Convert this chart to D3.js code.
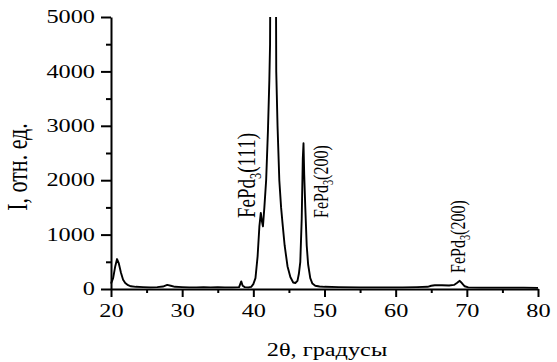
<!DOCTYPE html>
<html><head><meta charset="utf-8">
<script src="https://cdn.jsdelivr.net/npm/d3@7"></script>
<style>
body{margin:0;background:#fff}
svg text{font-family:"Liberation Serif","Times New Roman",serif;fill:#000}
</style>
</head><body>
<svg id="c" width="557" height="362"></svg>
<script>
// ---- data ----
const twoTheta = [20.0,20.3,20.6,20.85,21.1,21.4,21.7,22.0,22.4,22.8,23.5,24.5,25.5,26.5,27.3,27.9,28.4,29.0,30,31,32,33,34,35,36,37,38.0,38.3,38.5,38.8,39.3,39.7,40.0,40.3,40.6,40.85,41.05,41.2,41.35,41.55,41.8,42.05,42.25,42.35,42.8,43.22,43.4,43.65,43.9,44.1,44.4,44.8,45.2,45.6,45.9,46.2,46.4,46.6,46.8,46.95,47.05,47.15,47.3,47.5,47.7,48.0,48.3,48.7,49.3,50,52,55,58,61,63,64.5,65,65.5,66.5,67.5,68.2,68.6,69.0,69.3,69.7,70.2,72,75,78,80];
const intensity = [100,200,420,550,470,300,170,110,70,50,40,35,30,35,45,75,60,40,35,30,30,35,30,35,30,30,35,140,60,35,30,40,90,200,600,1150,1400,1250,1150,1500,2000,2900,3840,4500,20000,4000,3000,2000,1500,1210,800,420,220,120,110,150,280,500,1300,2400,2680,2100,1500,800,450,200,100,60,45,40,35,30,30,30,35,40,60,70,70,65,75,110,150,110,50,30,25,25,25,20];
const xTicks = [20,30,40,50,60,70,80];
const xMinorTicks = [25,35,45,55,65,75];
const yTicks = [0,1000,2000,3000,4000,5000];
const yMinorTicks = [500,1500,2500,3500,4500];
const labelMain = ["FePd","FePd","FePd"];
const labelSub = ["3","3","3"];
const labelHkl = ["(111)","(200)","(200)"];
const labelAt2Theta = [40.23,50.49,69.74];
const labelAtI = [1305,1305,294];
const xTitle = "2θ, градусы";
const yTitle = "I, отн. ед.";

// ---- chart ----
const svg = d3.select("#c");
const x = d3.scaleLinear().domain([20,80]).range([111,538]);
const y = d3.scaleLinear().domain([0,5000]).range([289,17]);
const SX = 1.35;

svg.append("clipPath").attr("id","clip").append("rect")
  .attr("x",0).attr("y",y(5000)).attr("width",557).attr("height",362-y(5000));

const pts = twoTheta.map((t,i)=>[t,intensity[i]]);
svg.append("path").datum(pts)
  .attr("clip-path","url(#clip)")
  .attr("fill","none").attr("stroke","#000").attr("stroke-width",1.9)
  .attr("stroke-linejoin","round")
  .attr("d", d3.line().x(d=>x(d[0])).y(d=>y(d[1])));

// x axis
const gx = svg.append("g").attr("transform",`translate(0,${y(0)})`)
  .call(d3.axisBottom(x).tickValues(xTicks).tickFormat(d3.format("d")).tickSize(8).tickPadding(7).tickSizeOuter(0));
svg.append("g").attr("transform",`translate(0,${y(0)})`)
  .call(d3.axisBottom(x).tickValues(xMinorTicks).tickSize(4).tickFormat("").tickSizeOuter(0))
  .call(g=>g.select(".domain").remove());
gx.selectAll("text").attr("font-size",18).attr("transform",`scale(${SX},1)`);

// y axis
const gy = svg.append("g").attr("transform",`translate(${x(20)},0)`)
  .call(d3.axisLeft(y).tickValues(yTicks).tickFormat(d3.format("d")).tickSize(10).tickSizeOuter(0));
svg.append("g").attr("transform",`translate(${x(20)},0)`)
  .call(d3.axisLeft(y).tickValues(yMinorTicks).tickSize(5).tickFormat("").tickSizeOuter(0))
  .call(g=>g.select(".domain").remove());
gy.selectAll("text").attr("font-size",18).attr("x",-16/SX).attr("transform",`scale(${SX},1)`);

svg.selectAll(".domain").attr("stroke","#000").attr("stroke-width",2);
svg.selectAll(".tick line").attr("stroke","#000").attr("stroke-width",2);
svg.selectAll(".tick text").attr("fill","#000");

// titles
svg.append("text").attr("transform",`translate(327,356) scale(${SX},1)`)
  .attr("text-anchor","middle").attr("font-size",18).text(xTitle);
svg.append("text").attr("transform",`translate(27,167) scale(${SX},1) rotate(-90)`)
  .attr("text-anchor","middle").attr("font-size",22).text(yTitle);

// peak labels
const labelSizes = [19,16,16];
labelMain.forEach((m,i)=>{
  const t = svg.append("text")
    .attr("transform",`translate(${x(labelAt2Theta[i])},${y(labelAtI[i])}) scale(${SX},1) rotate(-90)`)
    .attr("font-size",labelSizes[i]);
  t.append("tspan").text(m);
  t.append("tspan").attr("font-size",labelSizes[i]*0.65).attr("dy",labelSizes[i]*0.25).text(labelSub[i]);
  t.append("tspan").attr("dy",-labelSizes[i]*0.25).text(labelHkl[i]);
});
</script>
</body></html>
